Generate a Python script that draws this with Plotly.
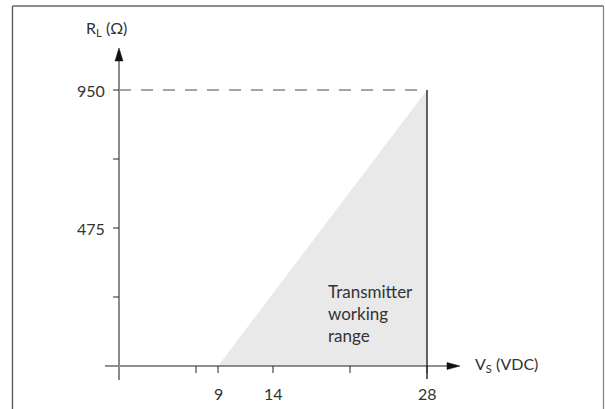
import plotly.graph_objects as go

# ---- data ----
x_ticks = [7, 9, 14, 21, 28]
x_tick_labels = ["", "9", "14", "", "28"]
y_ticks = [237.5, 475, 712.5, 950]
y_tick_labels = ["", "475", "", "950"]
range_vs = [9, 28, 28]          # working-range polygon, supply voltage (VDC)
range_rl = [0, 950, 0]          # working-range polygon, load resistance (ohm)
vs_max = 28
rl_max = 950

W, H = 605, 409
# pixel mapping: x=0 -> 119px, 11 px/unit ; y=0 -> 366px, 276/950 px/unit
xpx = 11.0
x0 = -119 / xpx
x1 = x0 + W / xpx
ypx = 276 / 950
ytop = 366 / ypx
ybot = -(H - 366) / ypx

def dx(p):  # pixel length -> x data
    return p / xpx
def dy(p):
    return p / ypx

FONT = "Lato"
TXT = "#333333"

fig = go.Figure()

# working range fill
fig.add_trace(go.Scatter(x=range_vs, y=range_rl, fill="toself", fillcolor="#e9e9e9",
                         line=dict(width=0), mode="lines", hoverinfo="skip"))
# dashed limit line
fig.add_trace(go.Scatter(x=[0, vs_max], y=[rl_max, rl_max], mode="lines",
                         line=dict(color="#888888", width=1.6, dash="12px,10px"), hoverinfo="skip"))
# vertical line at 28 V
fig.add_trace(go.Scatter(x=[vs_max, vs_max], y=[rl_max, -dy(13)], mode="lines",
                         line=dict(color="#111111", width=1.3), hoverinfo="skip"))
# x axis
fig.add_trace(go.Scatter(x=[-dx(14), dx(333)], y=[0, 0], mode="lines",
                         line=dict(color="#222222", width=1.2), hoverinfo="skip"))
# y axis
fig.add_trace(go.Scatter(x=[0, 0], y=[-dy(14), dy(306)], mode="lines",
                         line=dict(color="#8a8a8a", width=2), hoverinfo="skip"))
# arrowheads
fig.add_trace(go.Scatter(x=[dx(328), dx(341), dx(328), dx(328)],
                         y=[dy(3.5), 0, -dy(3.5), dy(3.5)], fill="toself", fillcolor="#111111",
                         mode="lines", line=dict(color="#111111", width=0.5), hoverinfo="skip"))
fig.add_trace(go.Scatter(x=[-dx(4), 0, dx(4), -dx(4)],
                         y=[dy(305), dy(318), dy(305), dy(305)], fill="toself", fillcolor="#111111",
                         mode="lines", line=dict(color="#111111", width=0.5), hoverinfo="skip"))

shapes = []
# x ticks
for v in x_ticks:
    shapes.append(dict(type="line", xref="x", yref="y", x0=v, x1=v, y0=0, y1=-dy(7),
                       line=dict(color="#222222", width=1)))
# y ticks
for v in y_ticks:
    shapes.append(dict(type="line", xref="x", yref="y", x0=-dx(6), x1=0, y0=v, y1=v,
                       line=dict(color="#222222", width=1)))
# frame
shapes.append(dict(type="line", xref="paper", yref="paper", x0=12.5 / W, x1=12.5 / W,
                   y0=0, y1=1 - 6 / H, line=dict(color="#555555", width=1.3)))
shapes.append(dict(type="line", xref="paper", yref="paper", x0=12.5 / W, x1=603.5 / W,
                   y0=1 - 6 / H, y1=1 - 6 / H, line=dict(color="#666666", width=1.3)))
shapes.append(dict(type="line", xref="paper", yref="paper", x0=603.5 / W, x1=603.5 / W,
                   y0=0, y1=1 - 6 / H, line=dict(color="#888888", width=1.3)))

annotations = []
for v, t in zip(x_ticks, x_tick_labels):
    if t:
        annotations.append(dict(x=v, y=-dy(27), text=t, showarrow=False,
                                font=dict(family=FONT, size=16, color=TXT),
                                xanchor="center", yanchor="middle"))
for v, t in zip(y_ticks, y_tick_labels):
    if t:
        annotations.append(dict(x=-dx(12), y=v, text=t, showarrow=False,
                                font=dict(family=FONT, size=16, color=TXT),
                                xanchor="right", yanchor="middle"))
annotations.append(dict(x=-dx(35), y=dy(338), text="R<sub>L</sub> (Ω)", showarrow=False,
                        font=dict(family=FONT, size=16, color=TXT), xanchor="left", yanchor="middle"))
annotations.append(dict(x=dx(354), y=dy(2), text="V<sub>S</sub> (VDC)", showarrow=False,
                        font=dict(family=FONT, size=16, color=TXT), xanchor="left", yanchor="middle"))
annotations.append(dict(x=dx(207), y=dy(53), text="Transmitter<br>working<br>range", showarrow=False,
                        font=dict(family=FONT, size=17, color=TXT), xanchor="left", yanchor="middle",
                        align="left"))

fig.update_layout(
    width=W, height=H, margin=dict(l=0, r=0, t=0, b=0),
    paper_bgcolor="white", plot_bgcolor="white", showlegend=False,
    xaxis=dict(range=[x0, x1], visible=False, fixedrange=True),
    yaxis=dict(range=[ybot, ytop], visible=False, fixedrange=True),
    shapes=shapes, annotations=annotations,
)

fig.write_html("out.html", config={"displayModeBar": False},
               post_script="document.body.style.margin='0';document.body.style.overflow='hidden';")
